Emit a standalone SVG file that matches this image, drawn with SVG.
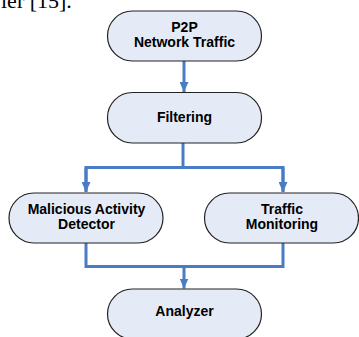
<svg xmlns="http://www.w3.org/2000/svg" width="359" height="337" viewBox="0 0 359 337">
  <style>
    .node rect { fill: #e5ebf6; stroke: #222; stroke-width: 1.2; }
    .node text { font-family: "Liberation Sans", Arial, sans-serif; font-weight: bold; font-size: 14px; fill: #000; text-anchor: middle; }
    .link { fill: none; stroke: #4a7cc4; stroke-width: 3; stroke-linejoin: miter; }
    .body { font-family: "Liberation Serif", "Times New Roman", serif; font-size: 22px; fill: #000; }
  </style>
  <defs>
    <marker id="arrow" viewBox="0 0 10 9" refX="10" refY="4.5" markerWidth="10" markerHeight="9" markerUnits="userSpaceOnUse" orient="auto">
      <path d="M0,0 L10,4.5 L0,9 Z" fill="#4a7cc4"/>
    </marker>
  </defs>

  <rect width="359" height="337" fill="#fff"/>

  <!-- tail of the preceding paragraph -->
  <text class="body" x="1" y="8">ler [15].</text>

  <!-- connectors -->
  <g id="connectors">
    <line class="link" x1="184" y1="61" x2="184" y2="92" marker-end="url(#arrow)"/>
    <polyline class="link" points="183,143 183,167.5"/>
    <polyline class="link" points="86,191.5 86,167.5 283,167.5 283,191.5"/>
    <line class="link" x1="86" y1="167.5" x2="86" y2="192" marker-end="url(#arrow)"/>
    <line class="link" x1="283" y1="167.5" x2="283" y2="192" marker-end="url(#arrow)"/>
    <polyline class="link" points="86,243 86,266.5 283,266.5 283,243"/>
    <line class="link" x1="184" y1="266.5" x2="184" y2="288.5" marker-end="url(#arrow)"/>
  </g>

  <!-- nodes -->
  <g id="p2p" class="node">
    <rect x="107.5" y="11" width="154" height="50" rx="25" ry="25"/>
    <text x="184.5" y="32.3">P2P</text>
    <text x="184.5" y="46.7">Network Traffic</text>
  </g>
  <g id="filtering" class="node">
    <rect x="107.5" y="92.5" width="154" height="50.5" rx="25" ry="25"/>
    <text x="184.5" y="122">Filtering</text>
  </g>
  <g id="detector" class="node">
    <rect x="9" y="193" width="154" height="50" rx="25" ry="25"/>
    <text x="86.5" y="214">Malicious Activity</text>
    <text x="86.5" y="228.5">Detector</text>
  </g>
  <g id="monitoring" class="node">
    <rect x="204.5" y="193" width="154" height="50" rx="25" ry="25"/>
    <text x="282" y="214">Traffic</text>
    <text x="282" y="228.5">Monitoring</text>
  </g>
  <g id="analyzer" class="node">
    <rect x="107.5" y="289" width="154" height="50" rx="25" ry="25"/>
    <text x="184.5" y="316">Analyzer</text>
  </g>
</svg>
